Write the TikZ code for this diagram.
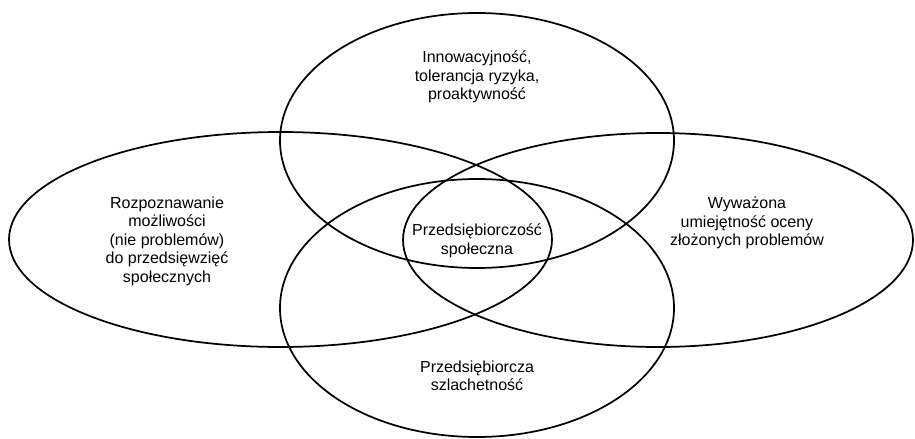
\documentclass[tikz,border=0pt]{standalone}
\usepackage{fontspec}
\setmainfont{Liberation Sans}
\begin{document}
\begin{tikzpicture}[x=0.75pt,y=-0.75pt,line width=1.3pt,
	ovaltext/.style={align=center,font=\fontsize{12}{13.9}\selectfont}]

	\useasboundingbox (0,0) rectangle (915,439);

	% the four traits
	\draw (477,140.5) ellipse [x radius=197,y radius=127.5];
	\draw (477,308) ellipse [x radius=197,y radius=129];
	\draw (280.5,239.5) ellipse [x radius=271.5,y radius=107.5];
	\draw (658,240) ellipse [x radius=255,y radius=107];

	\node[ovaltext] (innov) at (477,77) {Innowacyjność,\\tolerancja ryzyka,\\proaktywność};
	\node[ovaltext] (rozp) at (167,241) {Rozpoznawanie\\możliwości\\(nie problemów)\\do przedsięwzięć\\społecznych};
	\node[ovaltext] (wyw) at (747,223) {Wyważona\\umiejętność oceny\\złożonych problemów};
	\node[ovaltext] (szlach) at (477,376) {Przedsiębiorcza\\szlachetność};
	\node[ovaltext] (spol) at (477,241) {Przedsiębiorczość\\społeczna};

\end{tikzpicture}
\end{document}
